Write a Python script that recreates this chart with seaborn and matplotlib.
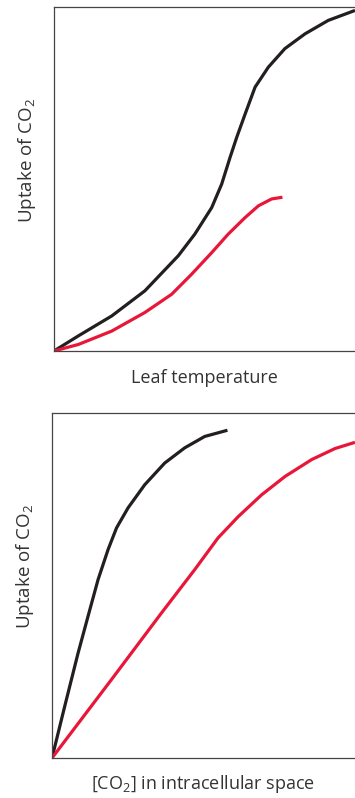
import pandas as pd
import matplotlib.pyplot as plt
import seaborn as sns

# valores (escala 0-1 en ambos ejes)
temp_x_negro = [0, 0.081, 0.192, 0.302, 0.413, 0.468, 0.524, 0.557, 0.585, 0.607, 0.635,
                0.668, 0.712, 0.767, 0.834, 0.911, 1.0]
temp_y_negro = [0, 0.044, 0.102, 0.175, 0.277, 0.340, 0.417, 0.485, 0.563, 0.621, 0.689,
                0.767, 0.825, 0.879, 0.922, 0.961, 0.990]
temp_x_rojo = [0, 0.081, 0.192, 0.302, 0.391, 0.457, 0.524, 0.579, 0.635, 0.679, 0.723, 0.759]
temp_y_rojo = [0, 0.019, 0.058, 0.112, 0.165, 0.223, 0.286, 0.340, 0.388, 0.422, 0.442, 0.447]

co2_x_negro = [0, 0.042, 0.086, 0.119, 0.152, 0.185, 0.213, 0.251, 0.306, 0.372, 0.438, 0.504, 0.579]
co2_y_negro = [0, 0.150, 0.304, 0.411, 0.517, 0.604, 0.667, 0.725, 0.792, 0.855, 0.899, 0.932, 0.950]
co2_x_rojo = [0, 0.196, 0.361, 0.471, 0.548, 0.615, 0.692, 0.769, 0.857, 0.934, 1.0]
co2_y_rojo = [0, 0.227, 0.420, 0.546, 0.638, 0.700, 0.763, 0.816, 0.865, 0.897, 0.915]

etiqueta_y = 'Uptake of CO$_\\mathregular{2}$'
etiqueta_x_arriba = 'Leaf temperature'
etiqueta_x_abajo = '[CO$_\\mathregular{2}$] in intracellular space'

NEGRO = '#231f20'
ROJO = '#e8173a'

sns.set_style('white')
plt.rcParams['font.family'] = ['Open Sans', 'DejaVu Sans']
plt.rcParams['mathtext.fontset'] = 'custom'
plt.rcParams['mathtext.rm'] = 'Open Sans'


def tabla(xs, ys, serie):
    return pd.DataFrame({'x': xs, 'y': ys, 'serie': serie})


fig = plt.figure(figsize=(3.55, 7.98), dpi=100)
ax1 = fig.add_axes([54 / 355, 1 - 351 / 798, 1 - 54 / 355, 344 / 798])
ax2 = fig.add_axes([52 / 355, 1 - 758 / 798, 1 - 52 / 355, 345 / 798])

paneles = [
    (ax1, tabla(temp_x_negro, temp_y_negro, 'a'), tabla(temp_x_rojo, temp_y_rojo, 'b'), etiqueta_x_arriba, 13),
    (ax2, tabla(co2_x_negro, co2_y_negro, 'a'), tabla(co2_x_rojo, co2_y_rojo, 'b'), etiqueta_x_abajo, 11),
]

for ax, df_negro, df_rojo, xlab, pad in paneles:
    for df, col in [(df_negro, NEGRO), (df_rojo, ROJO)]:
        sns.lineplot(data=df, x='x', y='y', color=col, linewidth=2.3, sort=False, ax=ax,
                     solid_joinstyle='round', solid_capstyle='butt')
    ax.set_xlim(0, 1)
    ax.set_ylim(0, 1)
    ax.set_xticks([])
    ax.set_yticks([])
    for lado in ['left', 'bottom', 'top']:
        ax.spines[lado].set_color('#444444')
        ax.spines[lado].set_linewidth(0.9)
    ax.spines['right'].set_visible(False)
    ax.set_xlabel(xlab, fontsize=13, color='#333333', labelpad=pad)
    ax.set_ylabel(etiqueta_y, fontsize=13.5, color='#333333')
    ax.yaxis.set_label_coords(-0.053, 0.555)

fig.savefig('out.png', dpi=100)
